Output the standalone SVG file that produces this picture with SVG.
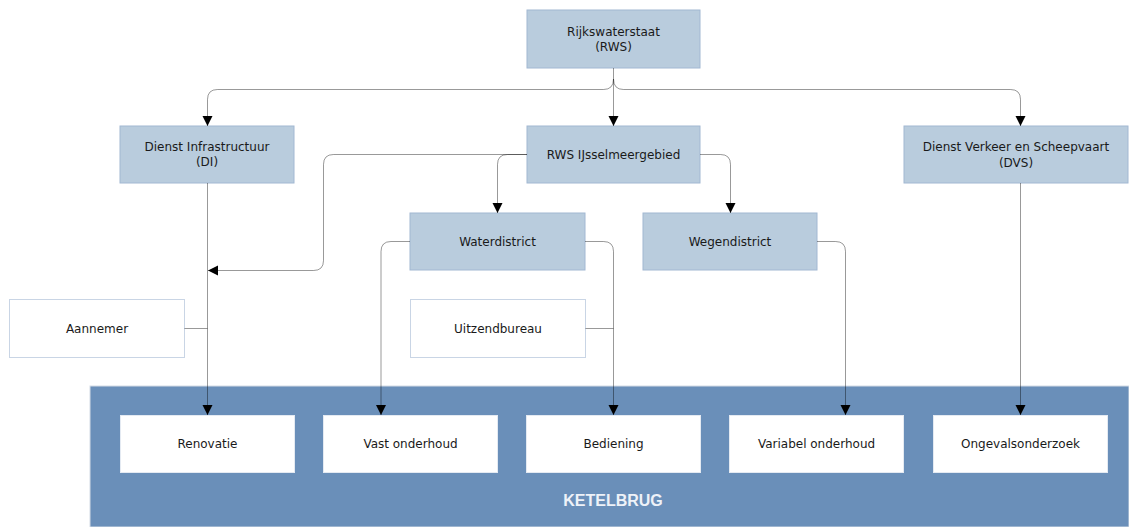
<svg xmlns="http://www.w3.org/2000/svg" width="1129" height="527" viewBox="0 0 1129 527">
<style>
.org{fill:#B9CCDD;stroke:#A2B8D2;stroke-width:1}
.ext{fill:#FFFFFF;stroke:#C9D5E5;stroke-width:1}
.act{fill:#FFFFFF;stroke:#E4EAF2;stroke-width:1}
.t{font-family:"DejaVu Sans",Verdana,sans-serif;font-size:12px;fill:#1A1A1A;text-anchor:middle}
.c{fill:none;stroke:#000000;stroke-opacity:0.4;stroke-width:1}
.ca{fill:none;stroke:#000000;stroke-opacity:0.4;stroke-width:1;marker-end:url(#ah)}
.band-t{font-family:"Liberation Sans",Arial,sans-serif;font-size:16px;font-weight:bold;fill:#EEF2F8;text-anchor:middle}
</style>
<defs>
<marker id="ah" markerWidth="11" markerHeight="11" refX="10" refY="5" orient="auto" markerUnits="userSpaceOnUse">
<path d="M0,0 L10,5 L0,10 Z" fill="#000000"/>
</marker>
</defs>
<rect x="0" y="0" width="1129" height="527" fill="#FFFFFF"/>

<g id="ketelbrug">
<rect x="90" y="386" width="1039" height="141" fill="#6A8FB9" stroke="#D4DCE6" stroke-width="1"/>
<text class="band-t" x="613" y="506">KETELBRUG</text>
</g>

<g id="rws">
<rect class="org" x="527" y="10" width="173" height="58"/>
<text class="t" x="613.5" y="35.5">Rijkswaterstaat</text>
<text class="t" x="613.5" y="50.5">(RWS)</text>
</g>
<g id="di">
<rect class="org" x="120" y="126" width="174" height="57"/>
<text class="t" x="207" y="151">Dienst Infrastructuur</text>
<text class="t" x="207" y="166">(DI)</text>
</g>
<g id="rwsij">
<rect class="org" x="527" y="126" width="173" height="57"/>
<text class="t" x="613.5" y="158.5">RWS IJsselmeergebied</text>
</g>
<g id="dvs">
<rect class="org" x="904" y="126" width="224" height="57"/>
<text class="t" x="1016" y="151">Dienst Verkeer en Scheepvaart</text>
<text class="t" x="1016" y="167">(DVS)</text>
</g>
<g id="waterdistrict">
<rect class="org" x="410" y="213" width="175" height="57"/>
<text class="t" x="497.5" y="245.5">Waterdistrict</text>
</g>
<g id="wegendistrict">
<rect class="org" x="643" y="213" width="174" height="57"/>
<text class="t" x="730" y="245.5">Wegendistrict</text>
</g>
<g id="aannemer">
<rect class="ext" x="9.5" y="299.5" width="175" height="58"/>
<text class="t" x="97" y="332.5">Aannemer</text>
</g>
<g id="uitzendbureau">
<rect class="ext" x="410.5" y="299.5" width="175" height="58"/>
<text class="t" x="498" y="332.5">Uitzendbureau</text>
</g>
<g id="renovatie">
<rect class="act" x="120.5" y="415.5" width="174" height="57"/>
<text class="t" x="207.5" y="448">Renovatie</text>
</g>
<g id="vast">
<rect class="act" x="323.5" y="415.5" width="174" height="57"/>
<text class="t" x="410.5" y="448">Vast onderhoud</text>
</g>
<g id="bediening">
<rect class="act" x="526.5" y="415.5" width="174" height="57"/>
<text class="t" x="613.5" y="448">Bediening</text>
</g>
<g id="variabel">
<rect class="act" x="729.5" y="415.5" width="174" height="57"/>
<text class="t" x="816.5" y="448">Variabel onderhoud</text>
</g>
<g id="ongevals">
<rect class="act" x="933.5" y="415.5" width="174" height="57"/>
<text class="t" x="1020.5" y="448">Ongevalsonderzoek</text>
</g>

<g id="connectors">
<path class="ca" d="M613.5,68 L613.5,126"/>
<path class="ca" d="M613.5,79 Q613.5,89.5 603.5,89.5 L217.5,89.5 Q207.5,89.5 207.5,99.5 L207.5,126"/>
<path class="ca" d="M613.5,79 Q613.5,89.5 623.5,89.5 L1010.5,89.5 Q1020.5,89.5 1020.5,99.5 L1020.5,126"/>
<path class="ca" d="M527,154.5 L333.5,154.5 Q323.5,154.5 323.5,164.5 L323.5,260.5 Q323.5,270.5 313.5,270.5 L208,270.5"/>
<path class="ca" d="M527,154.5 L507.5,154.5 Q497.5,154.5 497.5,164.5 L497.5,213"/>
<path class="ca" d="M700,154.5 L720.5,154.5 Q730.5,154.5 730.5,164.5 L730.5,213"/>
<path class="ca" d="M207.5,183 L207.5,415"/>
<path class="c" d="M184.5,328.5 L207.5,328.5"/>
<path class="ca" d="M410,241.5 L391,241.5 Q381,241.5 381,251.5 L381,415"/>
<path class="ca" d="M585,241.5 L603.5,241.5 Q613.5,241.5 613.5,251.5 L613.5,415"/>
<path class="c" d="M585.5,328.5 L613.5,328.5"/>
<path class="ca" d="M817,241.5 L835.5,241.5 Q845.5,241.5 845.5,251.5 L845.5,415"/>
<path class="ca" d="M1020.5,183 L1020.5,415"/>
</g>
</svg>
